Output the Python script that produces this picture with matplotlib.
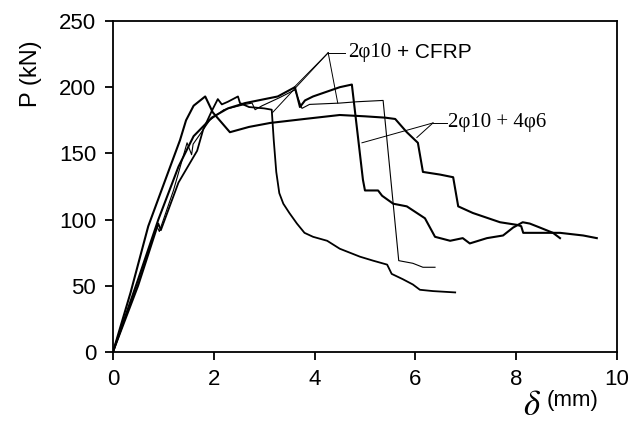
import matplotlib
matplotlib.use('Agg')
import matplotlib.pyplot as plt

# load-deflection curves
d1 = [0, 0.35, 0.7, 1.0, 1.33, 1.45, 1.6, 1.83, 1.98, 2.32, 2.7, 3.12, 3.8, 4.5, 5.0, 5.4, 5.6,
      5.83, 6.05, 6.15, 6.49, 6.75, 6.85, 7.14, 7.68, 8.02, 8.1, 8.14, 8.87, 9.33, 9.6]
p1 = [0, 45, 95, 126, 160, 175, 186, 193, 181, 166, 170, 173, 176, 179, 178, 177, 176,
      166, 158, 136, 134, 132, 110, 105, 98, 96, 95, 90, 90, 88, 86]

d2 = [0, 0.5, 0.9, 1.3, 1.6, 1.96, 2.28, 2.62, 3.27, 3.61, 3.71, 3.81, 3.97, 4.5, 4.74, 4.96,
      5.0, 5.26, 5.34, 5.56, 5.83, 6.19, 6.39, 6.69, 6.94, 7.08, 7.42, 7.74, 7.94, 8.13, 8.27,
      8.47, 8.73, 8.87]
p2 = [0, 55, 100, 140, 163, 177, 184, 188, 193, 200, 185, 190, 193, 200, 202, 130,
      122, 122, 118, 112, 110, 101, 87, 84, 86, 82, 86, 88, 94, 98, 97,
      94, 90, 86]

d3 = [0, 0.5, 0.87, 0.92, 1.2, 1.47, 1.56, 1.59, 1.92, 2.2, 2.62, 2.76, 2.82, 2.96, 3.3, 3.61,
      3.75, 3.9, 4.5, 4.84, 5.36, 5.67, 5.95, 6.15, 6.39]
p3 = [0, 52, 95, 91, 122, 158, 149, 157, 175, 183, 187, 188, 183, 186, 192, 198,
      184, 187, 188, 189, 190, 69, 67, 64, 64]

d4 = [0, 0.5, 0.9, 0.95, 1.3, 1.67, 1.79, 1.96, 2.08, 2.16, 2.28, 2.48, 2.52, 2.7, 3.0, 3.15,
      3.19, 3.24, 3.3, 3.38, 3.5, 3.65, 3.8, 3.97, 4.25, 4.5, 4.9, 5.16, 5.44, 5.53, 5.75,
      5.95, 6.09, 6.35, 6.79]
p4 = [0, 50, 97, 92, 128, 152, 168, 182, 191, 187, 189, 193, 188, 185, 184, 183,
      160, 136, 120, 112, 105, 97, 90, 87, 84, 78, 72, 69, 66, 59, 55,
      51, 47, 46, 45]

xticks = [0, 2, 4, 6, 8, 10]
yticks = [0, 50, 100, 150, 200, 250]

fig = plt.figure(figsize=(6.43, 4.24), dpi=100)
ax = fig.add_axes([0.1757, 0.1698, 0.7838, 0.7807])

ax.plot(d1, p1, color='k', lw=1.5)
ax.plot(d2, p2, color='k', lw=1.5)
ax.plot(d3, p3, color='k', lw=0.8)
ax.plot(d4, p4, color='k', lw=1.3)

ax.set_xlim(0, 10)
ax.set_ylim(0, 250)
ax.set_xticks(xticks)
ax.set_yticks(yticks)
for s in ax.spines.values():
    s.set_linewidth(1.3)
ax.tick_params(direction='out', length=6, width=1.3, labelsize=16, pad=6)
for lab in ax.get_xticklabels() + ax.get_yticklabels():
    lab.set_family('Liberation Sans')

# axis titles
ax.set_ylabel('P (kN)', fontsize=17, family='Liberation Sans')
ax.yaxis.set_label_coords(-0.14, 0.84)
fig.text(0.828, 0.005, r'$\delta$', fontsize=25, ha='center', va='bottom',
         math_fontfamily='stix')
fig.text(0.85, 0.03, '(mm)', fontsize=16, family='Liberation Sans', ha='left', va='bottom')

# callouts
lk = dict(color='k', lw=0.7)
ax.plot([4.27, 4.60], [226, 226], **lk)
ax.plot([4.27, 3.57], [226, 199], **lk)
ax.plot([4.27, 3.17], [226, 181], **lk)
ax.plot([4.27, 4.46], [226, 188], **lk)
ax.text(4.66, 226, '2\u03c610', fontsize=15, family='Liberation Serif', va='center')
ax.text(5.63, 226, '+ CFRP', fontsize=15, family='Liberation Sans', va='center')

ax.plot([6.35, 6.63], [173, 173], **lk)
ax.plot([6.35, 4.94], [173, 158], **lk)
ax.plot([6.35, 6.03], [173, 162], **lk)
ax.text(6.65, 173, '2\u03c610 + 4\u03c66', fontsize=15, family='Liberation Serif', va='center')

fig.savefig('out.png', dpi=100)
